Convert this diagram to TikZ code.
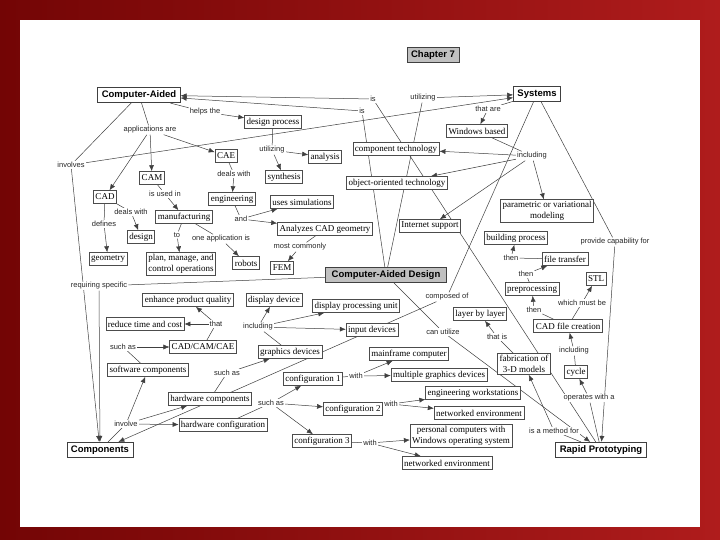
\documentclass[tikz,border=0pt]{standalone}
\usepackage{fontspec}
\setmainfont{Liberation Serif}
\setsansfont{Liberation Sans}
\usetikzlibrary{arrows.meta}
\definecolor{framedark}{RGB}{115, 5, 5}
\definecolor{framelight}{RGB}{175, 28, 28}
\definecolor{keygray}{RGB}{192, 192, 192}
\pgfdeclarelayer{bg}
\pgfdeclarelayer{wires}
\pgfsetlayers{bg,wires,main}

\begin{document}
\begin{tikzpicture}[x=1pt, y=-1pt, >={Latex[length=6pt,width=5pt]},
    concept/.style={draw=black!75, line width=0.7pt, fill=white, font=\sffamily\bfseries\fontsize{9.5}{11}\selectfont, inner xsep=4pt, inner ysep=2pt, minimum height=15.5pt},
    item/.style={draw=black!70, line width=0.6pt, fill=white, font=\fontsize{9}{10.5}\selectfont, inner xsep=2pt, inner ysep=2pt, minimum height=13pt, align=center},
    linkword/.style={fill=white, text=black!85, font=\sffamily\fontsize{7.5}{9}\selectfont, inner sep=1pt},
    wire/.style={black!75, line width=0.5pt}]
  \useasboundingbox (0,0) rectangle (720,540);
  \begin{pgfonlayer}{bg}
    \shade[left color=framedark, right color=framelight] (0,0) rectangle (720,540);
    \fill[white] (20,20) rectangle (700,527);
  \end{pgfonlayer}

  % main concepts
  \node[concept, fill=keygray] (ch7)  at (433,55)  {Chapter 7};
  \node[concept] (ca)   at (139,95)  {Computer-Aided};
  \node[concept] (sys)  at (537,94)  {Systems};
  \node[concept] (comp) at (100,450) {Components};
  \node[concept] (rp)   at (601,450) {Rapid Prototyping};
  \node[concept, fill=keygray, inner xsep=6pt] (cadd) at (386,275) {Computer-Aided Design};

  % upper part
  \node[item] (dp)   at (273,122) {design process};
  \node[item] (cae)  at (226,156) {CAE};
  \node[item] (cam)  at (152,178) {CAM};
  \node[item] (cad)  at (105,197) {CAD};
  \node[item] (syn)  at (284,177) {synthesis};
  \node[item] (ana)  at (325,157) {analysis};
  \node[item] (ct)   at (396,149) {component technology};
  \node[item] (oot)  at (397,183) {object-oriented technology};
  \node[item] (wb)   at (477,131) {Windows based};
  \node[item] (eng)  at (232,199) {engineering};
  \node[item] (mfg)  at (184,217) {manufacturing};
  \node[item] (des)  at (141,237) {design};
  \node[item] (geo)  at (108,259) {geometry};
  \node[item] (plan) at (181,264) {plan, manage, and\\control operations};
  \node[item] (rob)  at (246,263) {robots};
  \node[item] (sim)  at (302,202) {uses simulations};
  \node[item] (acg)  at (325,229) {Analyzes CAD geometry};
  \node[item] (fem)  at (282,268) {FEM};
  \node[item] (inet) at (430,226) {Internet support};
  \node[item] (pvm)  at (547,211) {parametric or variational\\modeling};

  % rapid prototyping chain
  \node[item] (bp)    at (516,238) {building process};
  \node[item] (ft)    at (565,259) {file transfer};
  \node[item] (stl)   at (596,279) {STL};
  \node[item] (pre)   at (532,289) {preprocessing};
  \node[item] (layer) at (480,314) {layer by layer};
  \node[item] (cfc)   at (568,326) {CAD file creation};
  \node[item] (fab)   at (524,364) {fabrication of\\3-D models};
  \node[item] (cyc)   at (576,372) {cycle};

  % lower part
  \node[item] (epq)  at (188,300) {enhance product quality};
  \node[item] (dd)   at (274,300) {display device};
  \node[item] (dpu)  at (356,306) {display processing unit};
  \node[item] (rtc)  at (145,324) {reduce time and cost};
  \node[item] (inp)  at (372,330) {input devices};
  \node[item] (ccc)  at (203,347) {CAD/CAM/CAE};
  \node[item] (gd)   at (290,352) {graphics devices};
  \node[item] (sc)   at (148,370) {software components};
  \node[item] (mf)   at (409,354) {mainframe computer};
  \node[item] (mgd)  at (439,375) {multiple graphics devices};
  \node[item] (c1)   at (313,379) {configuration 1};
  \node[item] (hc)   at (210,399) {hardware components};
  \node[item] (hcfg) at (223,425) {hardware configuration};
  \node[item] (c2)   at (353,409) {configuration 2};
  \node[item] (ew)   at (473,393) {engineering workstations};
  \node[item] (ne1)  at (479,413) {networked environment};
  \node[item] (c3)   at (322,441) {configuration 3};
  \node[item] (pc)   at (461,436) {personal computers with\\Windows operating system};
  \node[item] (ne2)  at (447,463) {networked environment};

  % linking phrases
  \node[linkword] (lhelps)   at (205,112) {helps the};
  \node[linkword] (lapps)    at (150,130) {applications are};
  \node[linkword] (linvs)    at (71,165)  {involves};
  \node[linkword] (lis1)     at (373,99)  {is};
  \node[linkword] (lis2)     at (362,111) {is};
  \node[linkword] (lutil1)   at (423,98)  {utilizing};
  \node[linkword] (lthatare) at (488,109) {that are};
  \node[linkword] (lutil2)   at (272,150) {utilizing};
  \node[linkword] (lincl1)   at (532,156) {including};
  \node[linkword] (ldeals1)  at (234,174) {deals with};
  \node[linkword] (lusedin)  at (165,194) {is used in};
  \node[linkword] (ldeals2)  at (131,212) {deals with};
  \node[linkword] (ldefines) at (104,224) {defines};
  \node[linkword] (land)     at (241,219) {and};
  \node[linkword] (lto)      at (177,235) {to};
  \node[linkword] (loneapp)  at (221,239) {one application is};
  \node[linkword] (lmostc)   at (300,247) {most commonly};
  \node[linkword] (lreqs)    at (99,286)  {requiring specific};
  \node[linkword] (lprovide) at (615,242) {provide capability for};
  \node[linkword] (lthen1)   at (511,258) {then};
  \node[linkword] (lthen2)   at (526,274) {then};
  \node[linkword] (lcomposed) at (447,297) {composed of};
  \node[linkword] (lmustbe)  at (582,303) {which must be};
  \node[linkword] (lthen3)   at (534,310) {then};
  \node[linkword] (lthat)    at (216,324) {that};
  \node[linkword] (lincl2)   at (258,327) {including};
  \node[linkword] (lcanutil) at (443,332) {can utilize};
  \node[linkword] (lthatis)  at (497,337) {that is};
  \node[linkword] (lsuch1)   at (123,347) {such as};
  \node[linkword] (lincl3)   at (574,351) {including};
  \node[linkword] (lsuch2)   at (227,373) {such as};
  \node[linkword] (lwith1)   at (356,376) {with};
  \node[linkword] (lopers)   at (589,398) {operates with a};
  \node[linkword] (lsuch3)   at (271,403) {such as};
  \node[linkword] (lwith2)   at (391,404) {with};
  \node[linkword] (linvolve) at (126,424) {involve};
  \node[linkword] (lmethod)  at (554,431) {is a method for};
  \node[linkword] (lwith3)   at (370,443) {with};

  \begin{pgfonlayer}{wires}
  \begin{scope}[wire]
    % Computer-Aided
    \draw (ca) -- (lhelps);  \draw[->] (lhelps) -- (dp);
    \draw (ca) -- (lapps);   \draw[->] (lapps) -- (cam);
    \draw[->] (lapps) -- (cae); \draw[->] (lapps) -- (cad);
    \draw (ca) -- (linvs);   \draw[->] (linvs) -- (sys);
    \draw[->] (linvs) -- (comp);
    \draw (dp) -- (lutil2);  \draw[->] (lutil2) -- (ana);
    \draw[->] (lutil2) -- (syn);
    \draw (cae) -- (ldeals1); \draw[->] (ldeals1) -- (eng);
    \draw (cam) -- (lusedin); \draw[->] (lusedin) -- (mfg);
    \draw (cad) -- (ldeals2); \draw[->] (ldeals2) -- (des);
    \draw (cad) -- (ldefines); \draw[->] (ldefines) -- (geo);
    \draw (mfg) -- (lto);     \draw[->] (lto) -- (plan);
    \draw (mfg) -- (loneapp); \draw[->] (loneapp) -- (rob);
    \draw (eng) -- (land);    \draw[->] (land) -- (sim);
    \draw[->] (land) -- (acg);
    \draw (acg) -- (lmostc);  \draw[->] (lmostc) -- (fem);

    % Computer-Aided Design
    \draw (cadd) -- (lis2);   \draw[->] (lis2) -- (ca);
    \draw (rp) -- (lis1);     \draw[->] (lis1) -- (ca);
    \draw (cadd) -- (lutil1); \draw[->] (lutil1) -- (sys);
    \draw (cadd) -- (lreqs);  \draw[->] (lreqs) -- (comp);
    \draw (cadd) -- (lcanutil); \draw[->] (lcanutil) -- (rp);

    % Systems
    \draw (sys) -- (lthatare); \draw[->] (lthatare) -- (wb);
    \draw (wb) -- (lincl1);
    \draw[->] (lincl1) -- (ct);   \draw[->] (lincl1) -- (oot);
    \draw[->] (lincl1) -- (inet); \draw[->] (lincl1) -- (pvm);
    \draw (sys) -- (lprovide);  \draw[->] (lprovide) -- (rp);
    \draw (sys) -- (lcomposed); \draw[->] (lcomposed) -- (comp);

    % Rapid Prototyping
    \draw (rp) -- (lopers);   \draw[->] (lopers) -- (cyc);
    \draw (rp) -- (lmethod);  \draw[->] (lmethod) -- (fab);
    \draw (fab) -- (lthatis); \draw[->] (lthatis) -- (layer);
    \draw (cyc) -- (lincl3);  \draw[->] (lincl3) -- (cfc);
    \draw (cfc) -- (lmustbe); \draw[->] (lmustbe) -- (stl);
    \draw (cfc) -- (lthen3);  \draw[->] (lthen3) -- (pre);
    \draw (pre) -- (lthen2);  \draw[->] (lthen2) -- (ft);
    \draw (ft) -- (lthen1);   \draw[->] (lthen1) -- (bp);

    % Components
    \draw (ccc) -- (lthat);   \draw[->] (lthat) -- (epq);
    \draw[->] (lthat) -- (rtc);
    \draw (sc) -- (lsuch1);   \draw[->] (lsuch1) -- (ccc);
    \draw (comp) -- (linvolve);
    \draw[->] (linvolve) -- (sc); \draw[->] (linvolve) -- (hc);
    \draw[->] (linvolve) -- (hcfg);
    \draw (hc) -- (lsuch2);   \draw[->] (lsuch2) -- (gd);
    \draw (gd) -- (lincl2);
    \draw[->] (lincl2) -- (dd); \draw[->] (lincl2) -- (dpu);
    \draw[->] (lincl2) -- (inp);
    \draw (hcfg) -- (lsuch3);
    \draw[->] (lsuch3) -- (c1); \draw[->] (lsuch3) -- (c2);
    \draw[->] (lsuch3) -- (c3);
    \draw (c1) -- (lwith1); \draw[->] (lwith1) -- (mf);
    \draw[->] (lwith1) -- (mgd);
    \draw (c2) -- (lwith2); \draw[->] (lwith2) -- (ew);
    \draw[->] (lwith2) -- (ne1);
    \draw (c3) -- (lwith3); \draw[->] (lwith3) -- (pc);
    \draw[->] (lwith3) -- (ne2);
  \end{scope}
  \end{pgfonlayer}
\end{tikzpicture}
\end{document}
